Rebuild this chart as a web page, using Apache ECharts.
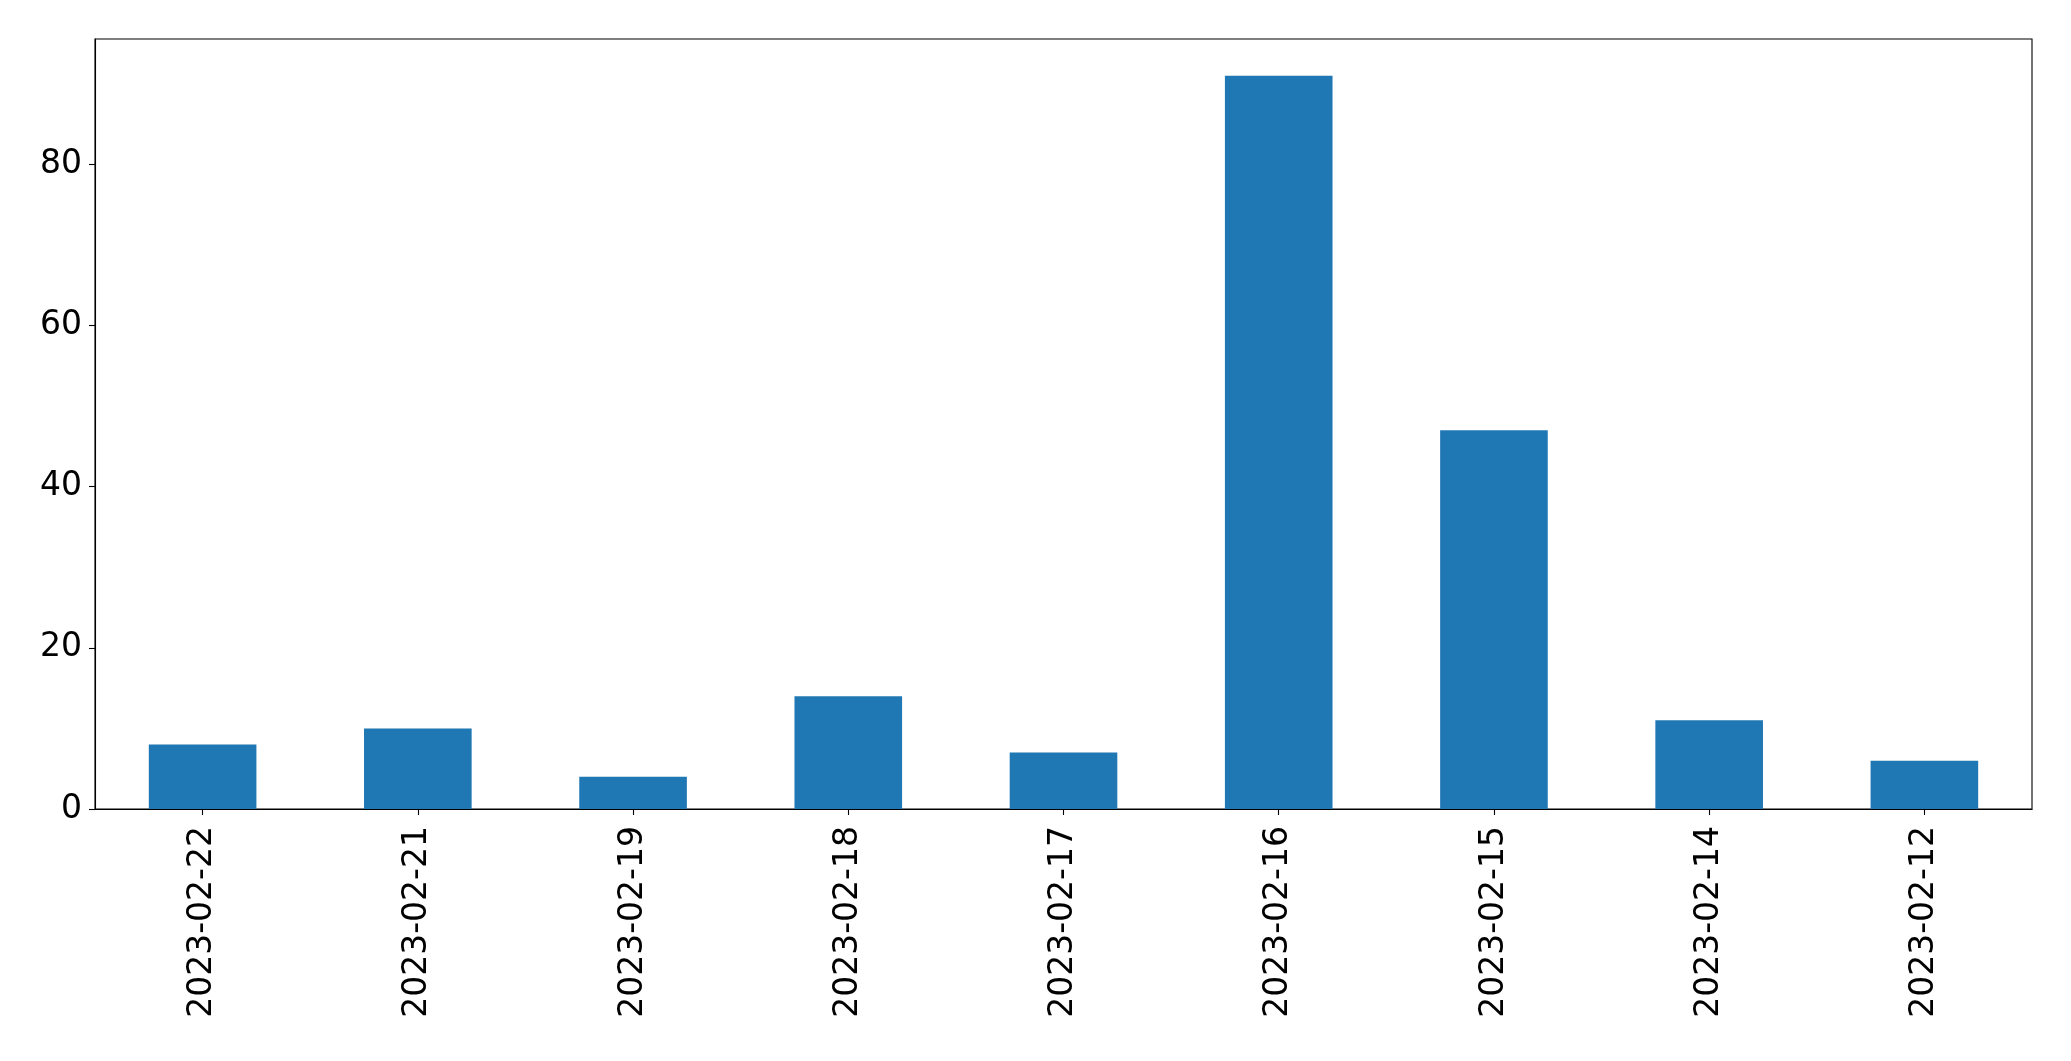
<!DOCTYPE html>
<html>
<head>
<meta charset="utf-8">
<script src="https://cdn.jsdelivr.net/npm/echarts@6/dist/echarts.min.js"></script>
<style>
html,body{margin:0;padding:0;background:#fff;}
#chart{width:2071px;height:1061px;}
</style>
</head>
<body>
<div id="chart"></div>
<script>
const categories = ['2023-02-22','2023-02-21','2023-02-19','2023-02-18','2023-02-17','2023-02-16','2023-02-15','2023-02-14','2023-02-12'];
const values = [8, 10, 4, 14, 7, 91, 47, 11, 6];
const yTicks = [0, 20, 40, 60, 80];

const yMax = Math.max(...values) * 1.05;
const chart = echarts.init(document.getElementById('chart'), null, {renderer: 'canvas'});
const font = '"DejaVu Sans", sans-serif';
chart.setOption({
  animation: false,
  backgroundColor: '#ffffff',
  grid: {left: 95, right: 39, top: 39, bottom: 252, show: true, borderColor: '#000', borderWidth: 1.1, backgroundColor: 'transparent'},
  xAxis: {
    type: 'category',
    data: categories,
    boundaryGap: true,
    axisLine: {show: true, lineStyle: {color: '#000', width: 1.1}},
    axisTick: {show: true, alignWithLabel: true, length: 6, lineStyle: {color: '#000', width: 1.1}},
    axisLabel: {rotate: 90, margin: 17, fontSize: 33, color: '#000', fontFamily: font, interval: 0},
    splitLine: {show: false}
  },
  yAxis: {
    type: 'value',
    min: 0,
    max: yMax,
    interval: 20,
    axisLine: {show: true, lineStyle: {color: '#000', width: 1.1}},
    axisTick: {show: true, length: 6, lineStyle: {color: '#000', width: 1.1}},
    axisLabel: {
      margin: 13, fontSize: 33, color: '#000', fontFamily: font, showMaxLabel: false,
      formatter: v => yTicks.includes(v) ? String(v) : ''
    },
    splitLine: {show: false}
  },
  series: [{
    type: 'bar',
    data: values,
    barWidth: '50%',
    itemStyle: {color: '#1f77b4'}
  }]
});
</script>
</body>
</html>
